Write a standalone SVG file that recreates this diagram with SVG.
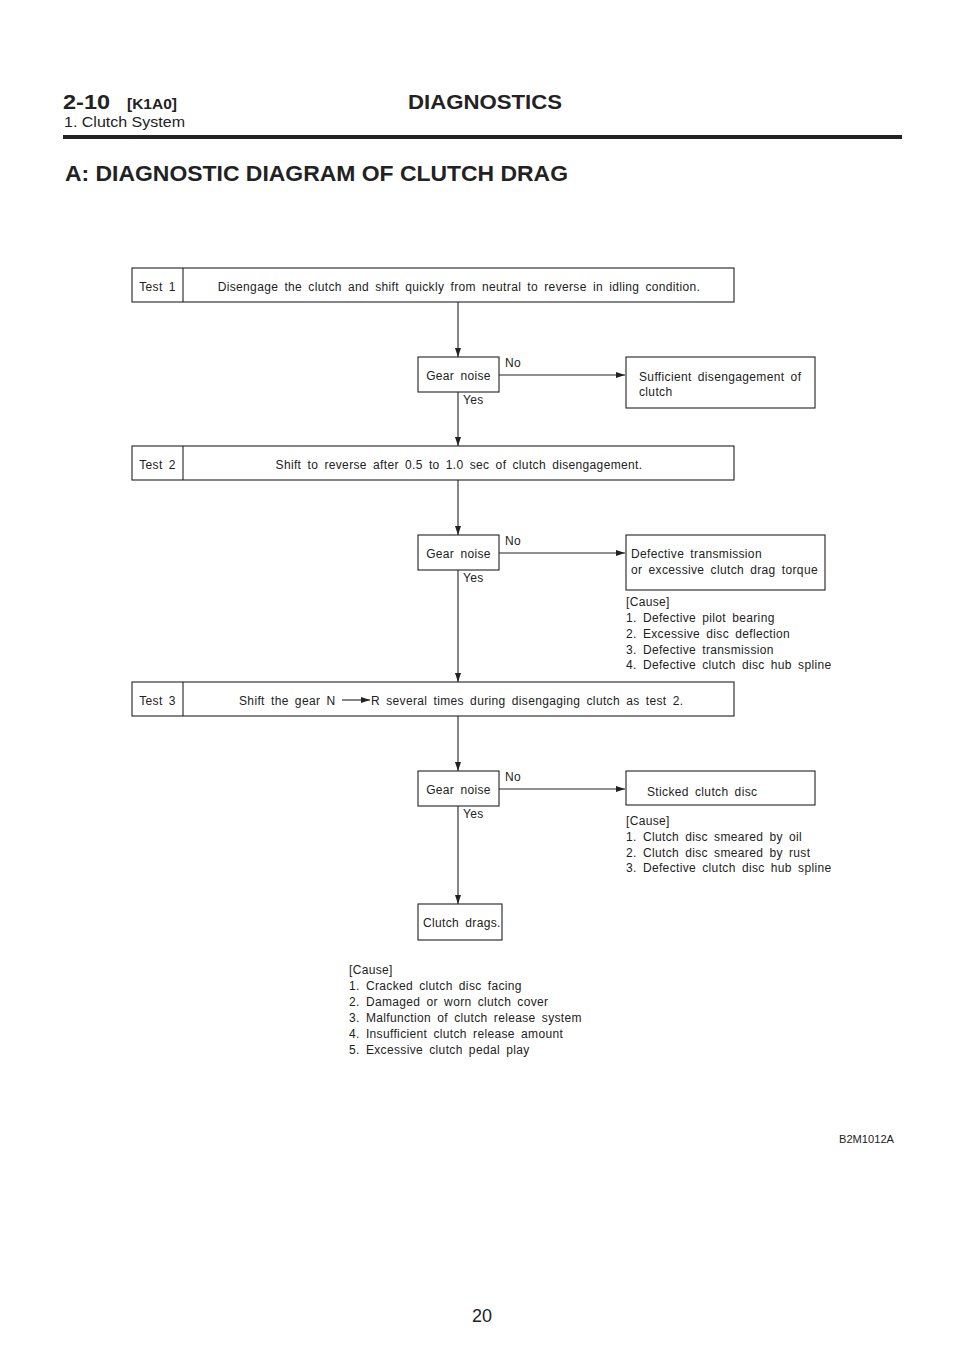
<svg xmlns="http://www.w3.org/2000/svg" width="960" height="1357" viewBox="0 0 960 1357">
<style>
.t{font-family:"Liberation Sans",Arial,sans-serif;font-size:12px;fill:#222;letter-spacing:0.35px;word-spacing:2.5px}
.m{text-anchor:middle}
.b{fill:none;stroke:#222;stroke-width:1.1}
.c{fill:none;stroke:#222;stroke-width:1.1}
.h{font-family:"Liberation Sans",Arial,sans-serif;fill:#222}
</style>
<defs>
<marker id="ar" markerUnits="userSpaceOnUse" markerWidth="9" markerHeight="6" refX="9" refY="3" orient="auto">
<path d="M0,0 L9,3 L0,6 z" fill="#222"/>
</marker>
</defs>
<rect width="960" height="1357" fill="#fff"/>
<g id="header">
<text class="h" x="63" y="109" font-size="21" font-weight="bold" textLength="47" lengthAdjust="spacingAndGlyphs">2-10</text>
<text class="h" x="127" y="109" font-size="14" font-weight="bold" textLength="50" lengthAdjust="spacingAndGlyphs">[K1A0]</text>
<text class="h" x="408" y="109" font-size="21" font-weight="bold" textLength="154" lengthAdjust="spacingAndGlyphs">DIAGNOSTICS</text>
<text class="h" x="64" y="127" font-size="15" textLength="121" lengthAdjust="spacingAndGlyphs">1. Clutch System</text>
<rect x="63" y="135" width="839" height="4" fill="#222"/>
<text class="h" x="65" y="181" font-size="22" font-weight="bold" textLength="503" lengthAdjust="spacingAndGlyphs">A: DIAGNOSTIC DIAGRAM OF CLUTCH DRAG</text>
</g>
<g id="connectors">
<line class="c" x1="458" y1="302" x2="458" y2="357" marker-end="url(#ar)"/>
<line class="c" x1="458" y1="392" x2="458" y2="446" marker-end="url(#ar)"/>
<line class="c" x1="458" y1="480" x2="458" y2="535" marker-end="url(#ar)"/>
<line class="c" x1="458" y1="570" x2="458" y2="682" marker-end="url(#ar)"/>
<line class="c" x1="458" y1="716" x2="458" y2="771" marker-end="url(#ar)"/>
<line class="c" x1="458" y1="806" x2="458" y2="904" marker-end="url(#ar)"/>
<line class="c" x1="499" y1="375" x2="625" y2="375" marker-end="url(#ar)"/>
<line class="c" x1="499" y1="553" x2="625" y2="553" marker-end="url(#ar)"/>
<line class="c" x1="499" y1="789" x2="625" y2="789" marker-end="url(#ar)"/>
<text class="t" x="505" y="367">No</text>
<text class="t" x="463" y="404">Yes</text>
<text class="t" x="505" y="545">No</text>
<text class="t" x="463" y="582">Yes</text>
<text class="t" x="505" y="781">No</text>
<text class="t" x="463" y="818">Yes</text>
</g>
<g id="test1">
<rect class="b" x="132" y="268" width="602" height="34"/>
<line class="b" x1="183" y1="268" x2="183" y2="302"/>
<text class="t m" x="157.5" y="291">Test 1</text>
<text class="t m" x="459" y="291">Disengage the clutch and shift quickly from neutral to reverse in idling condition.</text>
</g>
<g id="gear1">
<rect class="b" x="418" y="357" width="81" height="35"/>
<text class="t m" x="458.5" y="380">Gear noise</text>
</g>
<g id="sufficient">
<rect class="b" x="626" y="357" width="189" height="51"/>
<text class="t" x="639" y="381">Sufficient disengagement of</text>
<text class="t" x="639" y="396">clutch</text>
</g>
<g id="test2">
<rect class="b" x="132" y="446" width="602" height="34"/>
<line class="b" x1="183" y1="446" x2="183" y2="480"/>
<text class="t m" x="157.5" y="469">Test 2</text>
<text class="t m" x="459" y="469">Shift to reverse after 0.5 to 1.0 sec of clutch disengagement.</text>
</g>
<g id="gear2">
<rect class="b" x="418" y="535" width="81" height="35"/>
<text class="t m" x="458.5" y="558">Gear noise</text>
</g>
<g id="defective">
<rect class="b" x="626" y="535" width="199" height="55"/>
<text class="t" x="631" y="558">Defective transmission</text>
<text class="t" x="631" y="574">or excessive clutch drag torque</text>
</g>
<g id="cause2">
<text class="t" x="626" y="606">[Cause]</text>
<text class="t" x="626" y="622">1. Defective pilot bearing</text>
<text class="t" x="626" y="638">2. Excessive disc deflection</text>
<text class="t" x="626" y="654">3. Defective transmission</text>
<text class="t" x="626" y="669">4. Defective clutch disc hub spline</text>
</g>
<g id="test3">
<rect class="b" x="132" y="682" width="602" height="34"/>
<line class="b" x1="183" y1="682" x2="183" y2="716"/>
<text class="t m" x="157.5" y="705">Test 3</text>
<text class="t" x="239" y="705">Shift the gear N</text>
<line class="c" x1="342" y1="700" x2="370" y2="700" marker-end="url(#ar)"/>
<text class="t" x="371" y="705">R several times during disengaging clutch as test 2.</text>
</g>
<g id="gear3">
<rect class="b" x="418" y="771" width="81" height="35"/>
<text class="t m" x="458.5" y="794">Gear noise</text>
</g>
<g id="sticked">
<rect class="b" x="626" y="771" width="189" height="34"/>
<text class="t" x="647" y="796">Sticked clutch disc</text>
</g>
<g id="cause3">
<text class="t" x="626" y="825">[Cause]</text>
<text class="t" x="626" y="841">1. Clutch disc smeared by oil</text>
<text class="t" x="626" y="857">2. Clutch disc smeared by rust</text>
<text class="t" x="626" y="872">3. Defective clutch disc hub spline</text>
</g>
<g id="drags">
<rect class="b" x="418" y="904" width="84" height="36"/>
<text class="t" x="423" y="927">Clutch drags.</text>
</g>
<g id="cause4">
<text class="t" x="349" y="974">[Cause]</text>
<text class="t" x="349" y="990">1. Cracked clutch disc facing</text>
<text class="t" x="349" y="1006">2. Damaged or worn clutch cover</text>
<text class="t" x="349" y="1022">3. Malfunction of clutch release system</text>
<text class="t" x="349" y="1038">4. Insufficient clutch release amount</text>
<text class="t" x="349" y="1054">5. Excessive clutch pedal play</text>
</g>
<g id="footer">
<text class="h" x="839" y="1143" font-size="11" textLength="55" lengthAdjust="spacingAndGlyphs">B2M1012A</text>
<text class="h" x="482" y="1322" font-size="18" text-anchor="middle">20</text>
</g>
</svg>
